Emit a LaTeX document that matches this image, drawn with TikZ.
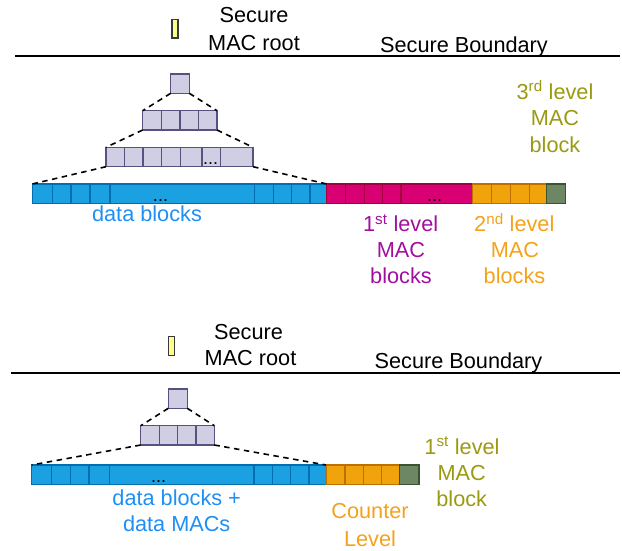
\documentclass[tikz,border=0pt]{standalone}
\usepackage{fontspec}
\setmainfont{Liberation Sans}
\definecolor{lavF}{HTML}{D0CEE2}\definecolor{lavD}{HTML}{56517E}
\definecolor{bluF}{HTML}{1BA1E2}\definecolor{bluD}{HTML}{006EAF}
\definecolor{magF}{HTML}{D80073}\definecolor{magD}{HTML}{A50040}
\definecolor{orF}{HTML}{F0A30A}\definecolor{orD}{HTML}{BD7000}
\definecolor{grF}{HTML}{6D8764}\definecolor{grD}{HTML}{3A5431}
\definecolor{yeF}{HTML}{FFFF88}\definecolor{yeD}{HTML}{36393D}
\definecolor{txBlue}{HTML}{1E8FF5}\definecolor{txPurp}{HTML}{A10E9F}
\definecolor{txOr}{HTML}{F3A21A}\definecolor{txOl}{HTML}{9A9A12}
\begin{document}
\begin{tikzpicture}[x=1pt,y=-1pt,
  lbl/.style={anchor=base, inner sep=0pt, font=\fontsize{21.7}{26}\selectfont},
  dotlbl/.style={anchor=base, inner sep=0pt, font=\fontsize{18}{20}\selectfont},
  box/.style={rectangle, inner sep=0pt, outer sep=0pt, line width=1.4pt, anchor=north west},
  lav/.style={box, draw=lavD, fill=lavF},
  blu/.style={box, draw=bluD, fill=bluF},
  mag/.style={box, draw=magD, fill=magF},
  org/.style={box, draw=orD, fill=orF},
  grn/.style={box, draw=grD, fill=grF},
  yel/.style={box, draw=yeD, fill=yeF},
  divline/.style={line width=1.4pt},
  conn/.style={line width=1.6pt, dash pattern=on 5.5pt off 4.5pt},
  bound/.style={line width=1.8pt}
]
\useasboundingbox (0,0) rectangle (622,550);

% ===================== TOP =====================
\coordinate (tL) at (15,56); \coordinate (tR) at (620,56);
\draw[bound] (tL) -- (tR);
\node[yel, minimum width=6pt, minimum height=18.7pt] (ty) at (172,19.3) {};
\node[lbl] (tsec) at (254,22.3) {Secure};
\node[lbl] (tmac) at (254,50) {MAC root};
\node[lbl] (tsb) at (464,52.5) {Secure Boundary};

\node[lav, minimum width=18.6pt, minimum height=19.3pt] (troot) at (170.7,74) {};
\node[lav, minimum width=74.3pt, minimum height=19.3pt] (tr2) at (142.7,110.7) {};
\foreach \x in {161.3,179.9,198.4} \draw[lavD, divline] (\x,110.7) -- (\x,130);
\node[lav, minimum width=147pt, minimum height=19.4pt] (tr3) at (106,147.3) {};
\foreach \x in {124.7,143,161.7,180.5,202,220.6} \draw[lavD, divline] (\x,147.3) -- (\x,166.7);
\node[dotlbl] (tr3d) at (210.5,164.5) {...};

\node[blu, minimum width=294.4pt, minimum height=19.3pt] (tblue) at (32.3,184) {};
\foreach \x in {52.7,71,90,110,254.3,273.3,291.7,310} \draw[bluD, divline] (\x,184) -- (\x,203.3);
\node[dotlbl] (tbd) at (160.5,201) {...};
\node[mag, minimum width=146pt, minimum height=19.3pt] (tmag) at (326.7,184) {};
\foreach \x in {345.7,364.3,382.7,401} \draw[magD, divline] (\x,184) -- (\x,203.3);
\node[dotlbl] (tmd) at (434.5,201) {...};
\node[org, minimum width=74pt, minimum height=19.3pt] (tor) at (472.7,184) {};
\foreach \x in {491.7,510.7,529.3} \draw[orD, divline] (\x,184) -- (\x,203.3);
\node[grn, minimum width=19pt, minimum height=19.3pt] (tgr) at (546.7,184) {};

\draw[conn] (troot.south west) -- (tr2.north west);
\draw[conn] (troot.south east) -- (tr2.north east);
\draw[conn] (tr2.south west) -- (tr3.north west);
\draw[conn] (tr2.south east) -- (tr3.north east);
\draw[conn] (tr3.south west) -- (tblue.north west);
\draw[conn] (tr3.south east) -- (tblue.north east);

\node[lbl, text=txOl] (t3a) at (555,99) {3\textsuperscript{rd} level};
\node[lbl, text=txOl] (t3b) at (555,125.5) {MAC};
\node[lbl, text=txOl] (t3c) at (555,152.5) {block};
\node[lbl, text=txBlue] (tdb) at (147,221.7) {data blocks};
\node[lbl, text=txPurp] (t1a) at (400.7,231.7) {1\textsuperscript{st} level};
\node[lbl, text=txPurp] (t1b) at (401,257.3) {MAC};
\node[lbl, text=txPurp] (t1c) at (401,283.3) {blocks};
\node[lbl, text=txOr] (t2a) at (514.3,231.7) {2\textsuperscript{nd} level};
\node[lbl, text=txOr] (t2b) at (515,257.3) {MAC};
\node[lbl, text=txOr] (t2c) at (514.5,283.3) {blocks};

% ===================== BOTTOM =====================
\coordinate (bL) at (11,373.3); \coordinate (bR) at (620,373.3);
\draw[bound] (bL) -- (bR);
\node[yel, minimum width=6pt, minimum height=18.6pt] (by) at (168.3,336.7) {};
\node[lbl] (bsec) at (248.5,339.3) {Secure};
\node[lbl] (bmac) at (250.5,365) {MAC root};
\node[lbl] (bsb) at (458.5,368.5) {Secure Boundary};

\node[lav, minimum width=19pt, minimum height=19.3pt] (broot) at (168.3,389) {};
\node[lav, minimum width=73.6pt, minimum height=19.3pt] (br2) at (140.7,425.7) {};
\foreach \x in {159.3,177.7,196} \draw[lavD, divline] (\x,425.7) -- (\x,445);

\node[blu, minimum width=294.3pt, minimum height=19.3pt] (bblue) at (31.7,465) {};
\foreach \x in {51.7,70.3,89,109.3,254,272.3,290.7,309} \draw[bluD, divline] (\x,465) -- (\x,484.3);
\node[dotlbl] (bbd) at (158.7,482.5) {...};
\node[org, minimum width=73.3pt, minimum height=19.3pt] (bor) at (326,465) {};
\foreach \x in {345,363.7,381.7} \draw[orD, divline] (\x,465) -- (\x,484.3);
\node[grn, minimum width=19.7pt, minimum height=19.3pt] (bgr) at (399.3,465) {};

\draw[conn] (broot.south west) -- (br2.north west);
\draw[conn] (broot.south east) -- (br2.north east);
\draw[conn] (br2.south west) -- (bblue.north west);
\draw[conn] (br2.south east) -- (bblue.north east);

\node[lbl, text=txOl] (b1a) at (462,454.3) {1\textsuperscript{st} level};
\node[lbl, text=txOl] (b1b) at (461.7,480.7) {MAC};
\node[lbl, text=txOl] (b1c) at (461.7,506.7) {block};
\node[lbl, text=txBlue] (bdb1) at (176.7,505) {data blocks +};
\node[lbl, text=txBlue] (bdb2) at (176.7,531.7) {data MACs};
\node[lbl, text=txOr] (bc1) at (370,518.3) {Counter};
\node[lbl, text=txOr] (bc2) at (370,546) {Level};
\end{tikzpicture}
\end{document}
